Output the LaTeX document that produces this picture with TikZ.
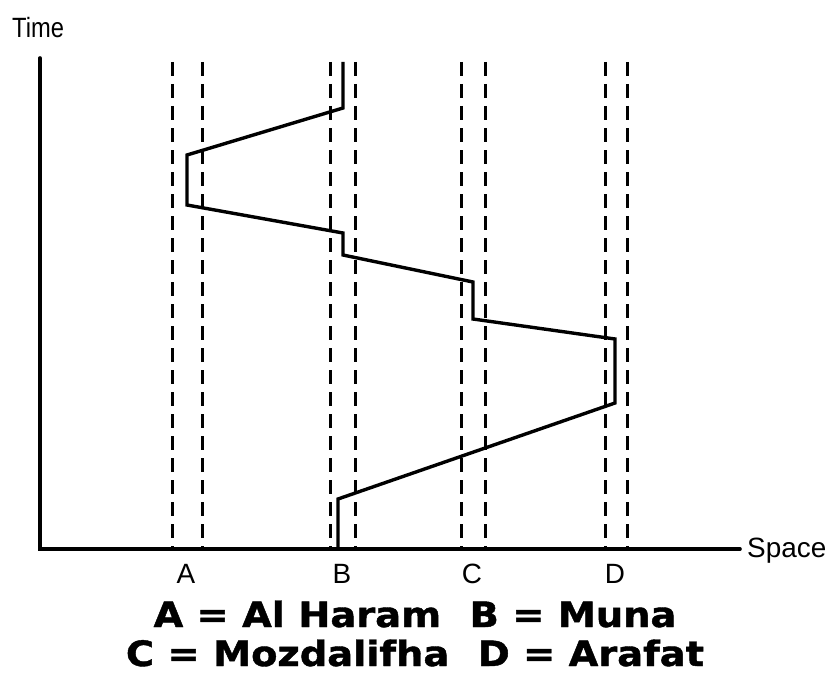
\documentclass[tikz,border=0pt]{standalone}
\usepackage{fontspec}
\setmainfont{Liberation Sans}
\newfontfamily\keyfont[BoldFeatures={FakeBold=1.2}]{DejaVu Sans}
\usetikzlibrary{positioning}

\begin{document}
\begin{tikzpicture}[
  x=1bp, y=-1bp,
  every node/.style={font=\fontsize{28}{30}\selectfont, inner sep=0pt},
  axis/.style={line width=3.6bp, line cap=round},
  site/.style={line width=3bp, dash pattern=on 14bp off 8bp},
  trip/.style={line width=3.4bp, line join=miter},
  key/.style={font=\keyfont\bfseries\fontsize{35}{40}\selectfont, xscale=1.1}
]
\useasboundingbox (0,0) rectangle (837,674);

% axes
\coordinate (origin) at (40,549);
\coordinate (ytop) at (40,58);
\coordinate (xend) at (740,549);
\draw[axis] (ytop) -- (origin) -- (xend);
\node[anchor=west, xscale=0.85] (time) at (12,28) {Time};
\node[anchor=west] (space) at (747,551) {Space};

% sites: dashed pairs
\foreach \x in {172,202,330,355,461,485,605,627}
  \draw[site] (\x,62) -- (\x,549);
\node (labA) at (186,574) {A};
\node (labB) at (342,574) {B};
\node (labC) at (472,574) {C};
\node (labD) at (615,574) {D};

% trajectory
\coordinate (p0) at (343,62);
\coordinate (p1) at (343,108);
\coordinate (p2) at (187,155);
\coordinate (p3) at (187,205);
\coordinate (p4) at (343,233);
\coordinate (p5) at (343,255);
\coordinate (p6) at (473,282);
\coordinate (p7) at (473,319);
\coordinate (p8) at (615,339);
\coordinate (p9) at (615,403);
\coordinate (p10) at (338,499);
\coordinate (p11) at (338,549);
\draw[trip] (p0) -- (p1) -- (p2) -- (p3) -- (p4) -- (p5) -- (p6)
  -- (p7) -- (p8) -- (p9) -- (p10) -- (p11);

% key
\node[key] (key1) at (415,614) {A = Al Haram\hspace{26bp}B = Muna};
\node[key] (key2) at (415,653) {C = Mozdalifha\hspace{26bp}D = Arafat};
\end{tikzpicture}
\end{document}
